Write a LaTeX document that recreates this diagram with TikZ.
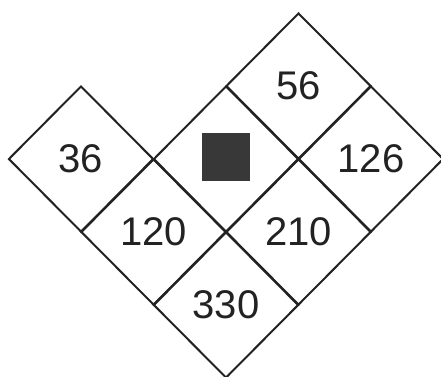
\documentclass[tikz,border=0pt]{standalone}
\usepackage{fontspec}
\setmainfont{Liberation Sans}
\usetikzlibrary{shapes.geometric}
\definecolor{ink}{HTML}{222222}
\definecolor{blk}{HTML}{383838}
\begin{document}
\begin{tikzpicture}[x=0.75pt,y=-0.75pt,
  cell/.style={diamond,draw=ink,line width=1.5pt,inner sep=0pt,
    minimum width=108.75pt,minimum height=109.5pt,text=ink,
    font=\fontsize{30}{30}\selectfont},
  hole/.style={fill=blk,draw=none,minimum size=36.5pt,inner sep=0pt}]
\useasboundingbox (0,0) rectangle (441,376);
\begin{scope}
\clip (0,0) rectangle (441,376);
\node[cell] (c36)  at (81,159)  {36};
\node[cell] (c84)  at (226,159) {};
\node[cell] (c56)  at (298.5,86) {56};
\node[cell] (c126) at (371,159) {126};
\node[cell] (c120) at (153.5,232) {120};
\node[cell] (c210) at (298.5,232) {210};
\node[cell] (c330) at (226,305) {330};
\node[hole] (sq) at (226,157) {};
\end{scope}
\end{tikzpicture}
\end{document}
